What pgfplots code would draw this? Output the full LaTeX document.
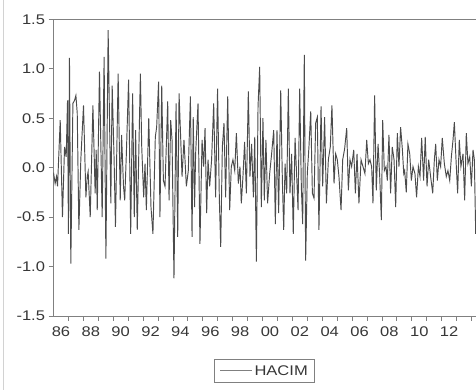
\documentclass[border=0pt]{standalone}
\usepackage{fontspec}
\setmainfont{Liberation Sans}[FakeStretch=1.18]
\usepackage{pgfplots}
\pgfplotsset{compat=1.18}
\definecolor{axgray}{RGB}{128,128,128}
\definecolor{linegray}{RGB}{75,75,75}
\definecolor{txtgray}{RGB}{55,55,55}
\begin{document}
\begin{tikzpicture}
\path[use as bounding box] (0,0) rectangle (476bp,390bp);
\draw[gray!35, line width=0.8bp] (3.3bp,0) -- (3.3bp,390bp);
\begin{axis}[
  at={(53.5bp,74bp)}, anchor=south west,
  scale only axis, width=422.5bp, height=296.7bp,
  xmin=1986, xmax=2014.30, ymin=-1.5, ymax=1.5,
  axis x line=box, axis y line=left,
  x axis line style={-}, y axis line style={-},
  axis line style={draw=axgray, line width=1bp},
  xtick pos=bottom, ytick pos=left,
  tick align=outside, tick style={draw=axgray, line width=0.8bp},
  major tick length=5bp,
  xtick={1987,...,2014}, xticklabels={},
  extra x ticks={1986.5,1988.5,1990.5,1992.5,1994.5,1996.5,1998.5,2000.5,2002.5,2004.5,2006.5,2008.5,2010.5,2012.5},
  extra x tick labels={86,88,90,92,94,96,98,00,02,04,06,08,10,12},
  extra x tick style={major tick length=0pt, tick label style={yshift=-7bp}},
  ytick={-1.5,-1,-0.5,0,0.5,1,1.5},
  yticklabel style={/pgf/number format/.cd, fixed, fixed zerofill, precision=1},
  /pgf/number format/assume math mode=true,
  ticklabel style={font=\fontsize{14bp}{16bp}\selectfont, text=txtgray},
  legend style={at={(0.5,-0.185)}, anchor=center, draw=axgray, line width=0.8bp,
    font=\fontsize{14bp}{16bp}\selectfont, text=txtgray, inner xsep=5bp, inner ysep=4bp},
  legend image code/.code={\draw[#1, draw=gray, line width=0.8bp] (0bp,0bp) -- (32bp,0bp);},
]
\addplot[color=linegray, line width=0.95bp] table {
1986.00 -0.05
1986.11 -0.16
1986.20 -0.09
1986.27 -0.19
1986.45 0.48
1986.60 -0.50
1986.74 0.21
1986.85 0.11
1986.94 0.68
1987.00 -0.67
1987.07 1.11
1987.16 -0.97
1987.30 0.65
1987.41 0.68
1987.50 0.73
1987.59 0.55
1987.70 -0.63
1987.83 0.08
1988.01 0.63
1988.17 -0.30
1988.26 -0.09
1988.32 -0.04
1988.46 -0.50
1988.64 0.63
1988.79 -0.26
1988.86 0.18
1988.93 -0.43
1989.08 0.97
1989.26 -0.50
1989.39 1.12
1989.51 -0.92
1989.66 1.39
1989.84 -0.36
1989.93 0.83
1990.06 0.08
1990.15 -0.60
1990.33 0.95
1990.47 -0.33
1990.56 0.33
1990.69 -0.19
1990.77 -0.33
1990.88 0.14
1991.03 0.89
1991.17 -0.67
1991.30 0.75
1991.41 -0.50
1991.50 0.38
1991.61 -0.63
1991.82 0.95
1991.91 0.21
1992.04 -0.30
1992.13 0.04
1992.22 -0.43
1992.38 0.50
1992.53 -0.40
1992.66 -0.67
1992.82 0.31
1992.91 0.41
1993.04 0.87
1993.13 -0.50
1993.25 0.83
1993.36 -0.13
1993.47 -0.19
1993.65 0.67
1993.74 -0.33
1993.85 0.48
1993.94 0.28
1994.07 -1.12
1994.21 0.65
1994.32 -0.70
1994.41 0.75
1994.50 0.38
1994.61 -0.09
1994.74 0.28
1994.90 -0.19
1995.03 -0.03
1995.17 0.72
1995.28 -0.70
1995.36 0.51
1995.45 -0.40
1995.52 0.14
1995.68 0.65
1995.81 -0.77
1995.95 0.28
1996.06 0.01
1996.15 0.40
1996.26 -0.46
1996.35 0.08
1996.46 -0.19
1996.59 0.08
1996.73 0.65
1996.86 -0.30
1996.99 0.80
1997.11 -0.33
1997.20 -0.80
1997.31 0.21
1997.42 0.45
1997.53 -0.30
1997.67 0.72
1997.80 -0.43
1997.91 0.01
1998.02 0.08
1998.14 -0.03
1998.25 0.35
1998.38 -0.16
1998.49 0.01
1998.58 -0.36
1998.69 -0.09
1998.80 0.26
1998.92 -0.26
1999.05 0.77
1999.16 -0.09
1999.27 0.24
1999.39 -0.30
1999.48 0.31
1999.59 -0.95
1999.70 0.62
1999.81 1.02
1999.92 -0.40
2000.03 0.50
2000.12 -0.33
2000.23 0.28
2000.34 -0.36
2000.48 -0.06
2000.61 0.14
2000.75 0.38
2000.86 -0.57
2000.97 0.38
2001.08 -0.46
2001.22 0.78
2001.33 -0.13
2001.42 -0.63
2001.51 0.04
2001.62 -0.26
2001.73 0.80
2001.84 -0.26
2001.95 0.14
2002.06 -0.67
2002.18 0.30
2002.29 -0.09
2002.38 -0.43
2002.49 0.80
2002.60 -0.19
2002.69 -0.57
2002.80 1.14
2002.89 -0.94
2003.00 -0.06
2003.11 0.21
2003.23 0.57
2003.34 -0.26
2003.45 -0.31
2003.56 0.45
2003.67 0.51
2003.78 -0.63
2003.92 0.62
2004.03 -0.19
2004.16 0.51
2004.28 -0.36
2004.41 0.08
2004.54 0.21
2004.65 0.63
2004.79 -0.16
2004.90 0.14
2005.01 0.08
2005.12 -0.09
2005.26 -0.43
2005.37 0.08
2005.50 0.19
2005.64 0.40
2005.75 -0.23
2005.86 0.08
2005.97 0.01
2006.11 0.18
2006.22 -0.26
2006.33 0.14
2006.46 -0.36
2006.60 0.08
2006.73 0.01
2006.86 -0.06
2006.98 0.28
2007.09 0.04
2007.20 0.08
2007.31 0.01
2007.40 -0.36
2007.51 0.73
2007.62 -0.23
2007.74 0.24
2007.85 -0.09
2007.96 -0.53
2008.05 0.48
2008.16 -0.03
2008.27 0.01
2008.36 -0.13
2008.47 0.33
2008.58 -0.26
2008.69 0.21
2008.81 0.08
2008.92 -0.40
2009.03 0.35
2009.14 0.01
2009.25 0.41
2009.37 0.18
2009.46 -0.06
2009.52 -0.03
2009.63 -0.25
2009.74 0.24
2009.86 0.14
2009.97 -0.13
2010.08 0.01
2010.21 -0.06
2010.32 -0.30
2010.44 0.01
2010.55 -0.09
2010.66 0.30
2010.79 -0.13
2010.90 0.31
2011.02 -0.19
2011.13 0.08
2011.26 -0.09
2011.40 -0.26
2011.51 0.08
2011.60 0.24
2011.71 -0.13
2011.82 0.08
2011.93 0.01
2012.04 0.30
2012.18 0.04
2012.31 -0.09
2012.42 -0.03
2012.54 -0.13
2012.65 0.11
2012.76 0.28
2012.85 0.46
2012.96 0.08
2013.07 -0.26
2013.18 0.28
2013.29 0.01
2013.43 0.14
2013.54 -0.33
2013.65 0.35
2013.76 0.04
2013.88 0.11
2013.99 -0.19
2014.10 0.18
2014.19 0.08
2014.28 -0.67
2014.35 -0.35
};
\addlegendentry{HACIM}
\end{axis}
\end{tikzpicture}
\end{document}
